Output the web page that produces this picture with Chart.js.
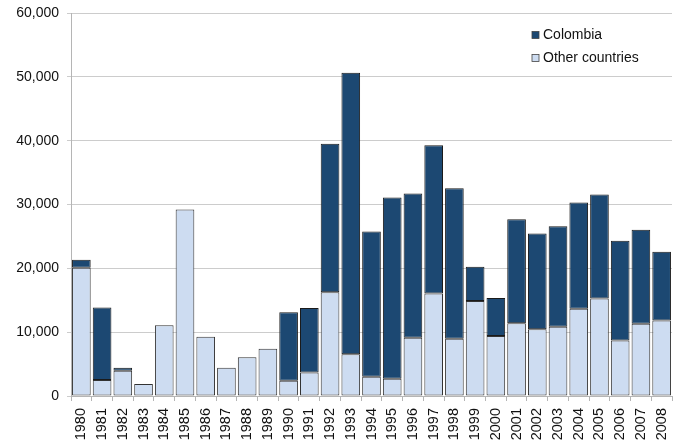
<!DOCTYPE html>
<html>
<head>
<meta charset="utf-8">
<script src="https://cdn.jsdelivr.net/npm/chart.js@4/dist/chart.umd.min.js"></script>
<style>
  html, body { margin: 0; padding: 0; background: #fff; }
  #wrap { width: 680px; height: 443px; }
</style>
</head>
<body>
<div id="wrap"><canvas id="chart" width="680" height="443"></canvas></div>
<script>
    // Data
    const years = ['1980', '1981', '1982', '1983', '1984', '1985', '1986', '1987', '1988', '1989',
        '1990', '1991', '1992', '1993', '1994', '1995', '1996', '1997', '1998', '1999',
        '2000', '2001', '2002', '2003', '2004', '2005', '2006', '2007', '2008'];

    const otherCountries = [20100, 2500, 3950, 1870, 11100, 29200, 9270, 4420, 6090, 7400,
        2400, 3700, 16250, 6560, 3020, 2710, 9110, 16040, 8960, 14900,
        9380, 11400, 10470, 10830, 13650, 15260, 8700, 11300, 11820];

    const colombia = [1260, 11360, 470, 0, 0, 0, 0, 0, 0, 0,
        10720, 10100, 23280, 44070, 22760, 28380, 22610, 23230, 23590, 5360,
        5980, 16300, 15000, 15770, 16660, 16300, 15620, 14740, 10780];

    const yTicks = [0, 10000, 20000, 30000, 40000, 50000, 60000];

    const FONT = 'Liberation Sans, Arial, Helvetica, sans-serif';

    // Legend drawn inside the plot, top right, Colombia first
    const cornerLegend = {
        id: 'cornerLegend',
        afterDraw(chart) {
            const ctx = chart.ctx;
            const items = chart.data.datasets.slice().reverse();
            ctx.save();
            ctx.font = '14px ' + FONT;
            ctx.textBaseline = 'middle';
            items.forEach((ds, i) => {
                const y = 35 + i * 23;
                ctx.fillStyle = ds.backgroundColor;
                ctx.fillRect(532, y - 3.5, 7, 7);
                ctx.strokeStyle = '#444';
                ctx.lineWidth = 0.8;
                ctx.strokeRect(532, y - 3.5, 7, 7);
                ctx.fillStyle = '#111';
                ctx.fillText(ds.label, 543, y);
            });
            ctx.restore();
        }
    };

    new Chart(document.getElementById('chart'), {
        type: 'bar',
        data: {
            labels: years,
            datasets: [
                {
                    label: 'Other countries',
                    data: otherCountries,
                    backgroundColor: '#cddcf1',
                    borderColor: '#333',
                    borderWidth: 1,
                    borderSkipped: false
                },
                {
                    label: 'Colombia',
                    data: colombia,
                    backgroundColor: '#1c4872',
                    borderColor: '#1a1a1a',
                    borderWidth: 1,
                    borderSkipped: false
                }
            ]
        },
        options: {
            responsive: false,
            animation: false,
            devicePixelRatio: 1,
            layout: { padding: { top: 13, right: 8, left: 0, bottom: 0 } },
            datasets: {
                bar: { barPercentage: 0.9, categoryPercentage: 1.0 }
            },
            plugins: {
                legend: { display: false },
                tooltip: { enabled: false }
            },
            scales: {
                x: {
                    stacked: true,
                    grid: {
                        display: true,
                        drawOnChartArea: false,
                        drawTicks: true,
                        tickLength: 5,
                        color: '#b5b5b5'
                    },
                    border: { color: '#b5b5b5', width: 1 },
                    ticks: {
                        color: '#111',
                        font: { family: FONT, size: 14.5 },
                        maxRotation: 90,
                        minRotation: 90,
                        autoSkip: false,
                        padding: 7
                    },
                    afterFit(scale) {
                        scale.height = 47;
                        scale.paddingLeft = 0;
                        scale.paddingRight = 0;
                    }
                },
                y: {
                    stacked: true,
                    min: 0,
                    max: 60000,
                    afterBuildTicks(scale) {
                        scale.ticks = yTicks.map(v => ({ value: v }));
                    },
                    grid: {
                        color: '#cccccc',
                        lineWidth: 1,
                        tickLength: 4
                    },
                    border: { color: '#b5b5b5', width: 1 },
                    ticks: {
                        color: '#111',
                        font: { family: FONT, size: 14 },
                        padding: 8,
                        callback: v => v.toLocaleString('en-US')
                    },
                    afterFit(scale) {
                        scale.width = 71;
                        scale.paddingTop = 0;
                        scale.paddingBottom = 0;
                    }
                }
            }
        },
        plugins: [cornerLegend]
    });
</script>
</body>
</html>
